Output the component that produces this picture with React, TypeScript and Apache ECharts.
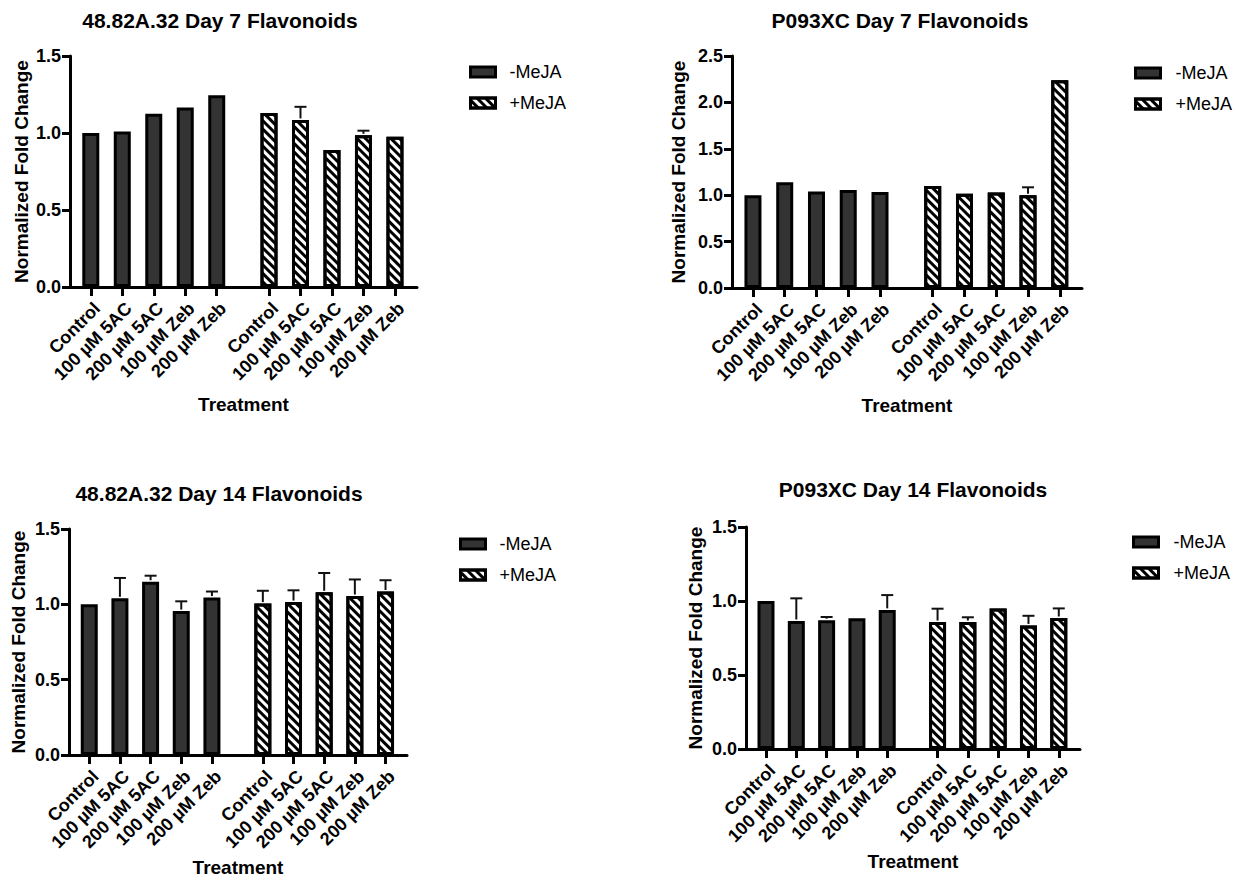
import React, { useEffect, useRef } from 'react';
import * as echarts from 'echarts';

// ---------- data ----------
const categories = ['Control', '100 µM 5AC', '200 µM 5AC', '100 µM Zeb', '200 µM Zeb'];
const seriesNames = ['-MeJA', '+MeJA'];
const titles = [
  '48.82A.32 Day 7 Flavonoids',
  'P093XC Day 7 Flavonoids',
  '48.82A.32 Day 14 Flavonoids',
  'P093XC Day 14 Flavonoids',
];
const yAxisName = 'Normalized Fold Change';
const xAxisName = 'Treatment';
const yMaxes = [1.5, 2.5, 1.5, 1.5];

// 48.82A.32 Day 7
const a7Minus = [1.0, 1.01, 1.125, 1.165, 1.245];
const a7MinusErr = [0, 0, 0, 0, 0];
const a7Plus = [1.13, 1.085, 0.89, 0.985, 0.975];
const a7PlusErr = [0, 0.085, 0, 0.03, 0];

// P093XC Day 7
const p7Minus = [1.0, 1.14, 1.04, 1.055, 1.035];
const p7MinusErr = [0, 0, 0, 0, 0];
const p7Plus = [1.1, 1.015, 1.03, 1.0, 2.24];
const p7PlusErr = [0, 0, 0, 0.085, 0];

// 48.82A.32 Day 14
const a14Minus = [1.0, 1.04, 1.15, 0.955, 1.045];
const a14MinusErr = [0, 0.135, 0.04, 0.065, 0.04];
const a14Plus = [1.005, 1.015, 1.08, 1.055, 1.085];
const a14PlusErr = [0.085, 0.078, 0.128, 0.11, 0.075];

// P093XC Day 14
const p14Minus = [1.0, 0.865, 0.87, 0.883, 0.94];
const p14MinusErr = [0, 0.153, 0.022, 0, 0.1];
const p14Plus = [0.858, 0.858, 0.95, 0.835, 0.885];
const p14PlusErr = [0.09, 0.032, 0, 0.065, 0.065];

const panelData = [
  { minus: a7Minus, minusErr: a7MinusErr, plus: a7Plus, plusErr: a7PlusErr },
  { minus: p7Minus, minusErr: p7MinusErr, plus: p7Plus, plusErr: p7PlusErr },
  { minus: a14Minus, minusErr: a14MinusErr, plus: a14Plus, plusErr: a14PlusErr },
  { minus: p14Minus, minusErr: p14MinusErr, plus: p14Plus, plusErr: p14PlusErr },
];

// ---------- layout ----------
const GROUP_OFFSET = 5.66;
const X_MIN = -0.66;
const X_MAX = 10.36;
const BAR_W = 17;
const FONT = "'Liberation Sans', Arial, Helvetica, sans-serif";

const layouts = [
  { grid: { left: 70, top: 56, width: 347, height: 231 }, titleX: 215, titleY: 4.5, legendX: 464, legendY: 58, legendPad: 9, nameGapX: 107.5, nameGapY: 39.5 },
  { grid: { left: 732, top: 56, width: 350, height: 232 }, titleX: 895, titleY: 4.5, legendX: 1129, legendY: 59, legendPad: 10, nameGapX: 107.5, nameGapY: 44 },
  { grid: { left: 69, top: 529, width: 338, height: 226 }, titleX: 214, titleY: 477.5, legendX: 454, legendY: 530, legendPad: 9, nameGapX: 103, nameGapY: 41.5 },
  { grid: { left: 746, top: 527, width: 334, height: 222 }, titleX: 908, titleY: 473.5, legendX: 1127, legendY: 528, legendPad: 10, nameGapX: 103, nameGapY: 41.5 },
];

const minusPos = categories.map((_, k) => k);
const plusPos = categories.map((_, k) => k + GROUP_OFFSET);
const allPos = [...minusPos, ...plusPos];

function labelFor(v: number): string {
  for (let k = 0; k < allPos.length; k++) {
    if (Math.abs(allPos[k] - v) < 0.01) return categories[k % categories.length];
  }
  return '';
}

const hatch = {
  symbol: 'rect',
  symbolSize: 1,
  color: '#000',
  backgroundColor: null,
  dashArrayX: [1, 0],
  dashArrayY: [3, 3],
  rotation: Math.PI / 4,
};

function errRenderItem(params: any, api: any) {
  const x = api.value(0);
  const y = api.value(1);
  const t = api.value(2);
  const p0 = api.coord([x, y]);
  const p1 = api.coord([x, t]);
  return {
    type: 'group',
    children: [
      { type: 'line', shape: { x1: p0[0], y1: p0[1] - 1.5, x2: p1[0], y2: p1[1] }, style: { stroke: '#111', lineWidth: 2 } },
      { type: 'line', shape: { x1: p1[0] - 6, y1: p1[1], x2: p1[0] + 6, y2: p1[1] }, style: { stroke: '#111', lineWidth: 2 } },
    ],
  };
}

function buildOption() {
  const series: any[] = [];
  panelData.forEach((d, i) => {
    series.push({
      type: 'bar',
      name: seriesNames[0],
      xAxisIndex: i,
      yAxisIndex: i,
      barWidth: BAR_W,
      barGap: '-100%',
      data: d.minus.map((v, k) => [minusPos[k], v]),
      itemStyle: { color: '#333333', borderColor: '#000', borderWidth: 3 },
    });
    series.push({
      type: 'bar',
      name: seriesNames[1],
      xAxisIndex: i,
      yAxisIndex: i,
      barWidth: BAR_W,
      barGap: '-100%',
      data: d.plus.map((v, k) => [plusPos[k], v]),
      itemStyle: { color: '#ffffff', borderColor: '#000', borderWidth: 3, decal: hatch },
    });
    const errData: number[][] = [];
    d.minus.forEach((v, k) => {
      if (d.minusErr[k] > 0) errData.push([minusPos[k], v, v + d.minusErr[k]]);
    });
    d.plus.forEach((v, k) => {
      if (d.plusErr[k] > 0) errData.push([plusPos[k], v, v + d.plusErr[k]]);
    });
    series.push({
      type: 'custom',
      name: 'err' + i,
      xAxisIndex: i,
      yAxisIndex: i,
      z: 5,
      silent: true,
      encode: { x: 0, y: [1, 2] },
      data: errData,
      renderItem: errRenderItem,
    });
  });

  return {
    animation: false,
    backgroundColor: '#ffffff',
    textStyle: { fontFamily: FONT },
    title: layouts.map((l, i) => ({
      text: titles[i],
      left: l.titleX,
      top: l.titleY,
      textAlign: 'center',
      textStyle: { fontSize: 21, fontWeight: 'bold', color: '#000', fontFamily: FONT },
    })),
    legend: layouts.map((l) => ({
      data: seriesNames,
      orient: 'vertical',
      left: l.legendX,
      top: l.legendY,
      itemWidth: 25,
      itemHeight: 10,
      itemGap: 13,
      icon: 'rect',
      selectedMode: false,
      itemStyle: { borderColor: '#000', borderWidth: 3 },
      textStyle: { fontSize: 18, color: '#000', fontFamily: FONT, lineHeight: 18, padding: [0, 0, 0, l.legendPad] },
    })),
    grid: layouts.map((l) => ({ ...l.grid, containLabel: false })),
    xAxis: layouts.map((l, i) => ({
      gridIndex: i,
      type: 'value',
      min: X_MIN,
      max: X_MAX,
      name: xAxisName,
      nameLocation: 'middle',
      nameGap: l.nameGapX,
      nameTextStyle: { fontSize: 19, fontWeight: 'bold', color: '#000', fontFamily: FONT },
      axisLine: { show: true, onZero: false, lineStyle: { color: '#000', width: 3 } },
      axisTick: { show: true, length: 9, customValues: allPos, lineStyle: { color: '#000', width: 3 } },
      axisLabel: {
        show: true,
        customValues: allPos,
        rotate: 45,
        margin: 12,
        verticalAlign: 'top',
        formatter: (v: number) => labelFor(v),
        fontSize: 18,
        fontWeight: 'bold',
        color: '#000',
        fontFamily: FONT,
      },
      splitLine: { show: false },
    })),
    yAxis: layouts.map((l, i) => ({
      gridIndex: i,
      type: 'value',
      min: 0,
      max: yMaxes[i],
      interval: 0.5,
      name: yAxisName,
      nameLocation: 'middle',
      nameGap: l.nameGapY,
      nameTextStyle: { fontSize: 19, fontWeight: 'bold', color: '#000', fontFamily: FONT },
      axisLine: { show: true, onZero: false, lineStyle: { color: '#000', width: 3 } },
      axisTick: { show: true, length: 8, lineStyle: { color: '#000', width: 3 } },
      axisLabel: {
        formatter: (v: number) => v.toFixed(1),
        fontSize: 18,
        fontWeight: 'bold',
        color: '#000',
        margin: 9,
        fontFamily: FONT,
      },
      splitLine: { show: false },
    })),
    series,
  };
}

export default function App() {
  const ref = useRef<HTMLDivElement>(null);
  useEffect(() => {
    if (!ref.current) return;
    const chart = echarts.init(ref.current, null, { renderer: 'svg' });
    chart.setOption(buildOption() as any);
    return () => chart.dispose();
  }, []);
  return (
    <div
      ref={ref}
      style={{ position: 'fixed', left: 0, top: 0, width: 1239, height: 880, background: '#fff' }}
    />
  );
}
